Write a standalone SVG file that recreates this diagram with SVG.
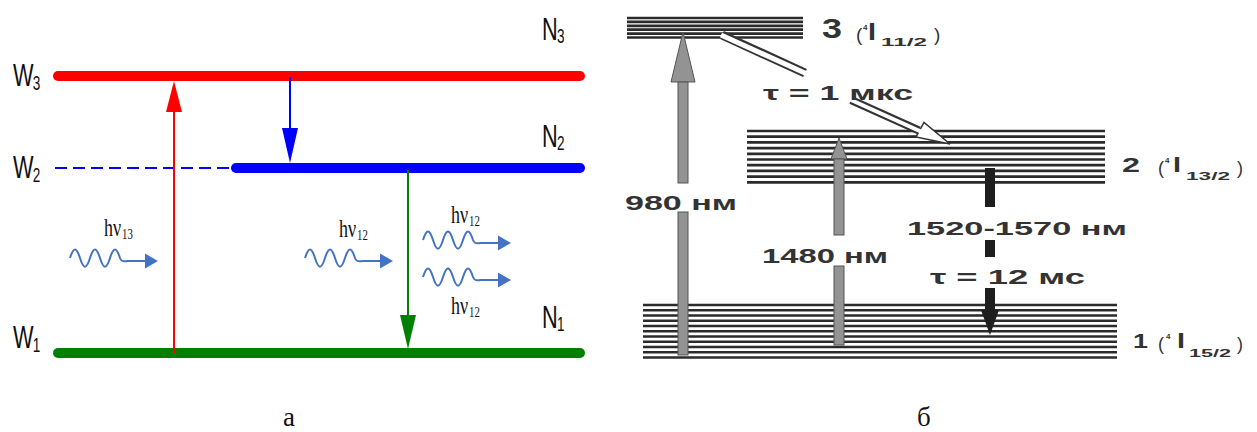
<svg xmlns="http://www.w3.org/2000/svg" width="1257" height="432" viewBox="0 0 1257 432">
<style>
.lv{font-family:"Liberation Sans",Arial,sans-serif;font-size:32px;fill:#111}
.lvs{font-family:"Liberation Sans",Arial,sans-serif;font-size:20px;fill:#111}
.hv{font-family:"Liberation Serif","Times New Roman",serif;font-size:25px;fill:#111}
.hvs{font-family:"Liberation Serif","Times New Roman",serif;font-size:15px;fill:#111}
.cap{font-family:"Liberation Serif","Times New Roman",serif;font-size:27px;fill:#111}
.rt{font-family:"Liberation Sans",Arial,sans-serif;font-weight:bold;fill:#333}
.rn{font-family:"Liberation Sans",Arial,sans-serif;fill:#333}
.lvl{stroke:#2b2b2b;stroke-width:2.7;fill:none}
.gray{fill:#939393;stroke:#555;stroke-width:1}
.blk{fill:#1e1e1e}
.wave{fill:none;stroke:#4472C4;stroke-width:2}
</style>
<defs>
<g id="wv">
<path class="wave" d="M0,0 c3.6,-11.5 6.4,-11.5 10,0 c3.6,11.5 6.4,11.5 10,0 c3.6,-11.5 6.4,-11.5 10,0 c3.6,11.5 6.4,11.5 10,0 c3.6,-11.5 6.4,-11.5 10,0 c2,5 5,3 8,3 H77"/>
<polygon points="75,-4.5 88,3 75,10.5" fill="#4472C4"/>
</g>
</defs>
<rect width="1257" height="432" fill="#fff"/>

<!-- Left panel: levels -->
<g id="level-W3"><line x1="58" y1="76" x2="580" y2="76" stroke="#FF0000" stroke-width="10" stroke-linecap="round"/></g>
<g id="level-W2"><line x1="55" y1="168" x2="232" y2="168" stroke="#0000FF" stroke-width="2" stroke-dasharray="12 6"/><line x1="236" y1="168" x2="580" y2="168" stroke="#0000FF" stroke-width="10" stroke-linecap="round"/></g>
<g id="level-W1"><line x1="58" y1="353" x2="580" y2="353" stroke="#008000" stroke-width="10" stroke-linecap="round"/></g>

<g id="label-W3" transform="translate(13,86) scale(0.68,1)"><text class="lv">W</text><text class="lvs" x="29" y="4">3</text></g>
<g id="label-W2" transform="translate(13,178) scale(0.68,1)"><text class="lv">W</text><text class="lvs" x="29" y="4">2</text></g>
<g id="label-W1" transform="translate(13,348) scale(0.68,1)"><text class="lv">W</text><text class="lvs" x="29" y="4">1</text></g>
<g id="label-N3" transform="translate(542,40) scale(0.68,1)"><text class="lv">N</text><text class="lvs" x="22" y="3">3</text></g>
<g id="label-N2" transform="translate(542,147) scale(0.68,1)"><text class="lv">N</text><text class="lvs" x="22" y="3">2</text></g>
<g id="label-N1" transform="translate(542,328) scale(0.68,1)"><text class="lv">N</text><text class="lvs" x="22" y="3">1</text></g>

<g id="photon-13"><use href="#wv" transform="translate(70,258)"/><g transform="translate(104,236) scale(0.72,1)"><text class="hv">hν</text><text class="hvs" x="25" y="3">13</text></g></g>
<g id="photon-12-in"><use href="#wv" transform="translate(305,258)"/><g transform="translate(339,237) scale(0.72,1)"><text class="hv">hν</text><text class="hvs" x="25" y="3">12</text></g></g>
<g id="photon-12-out1"><use href="#wv" transform="translate(423,240)"/><g transform="translate(451,223) scale(0.72,1)"><text class="hv">hν</text><text class="hvs" x="25" y="3">12</text></g></g>
<g id="photon-12-out2"><use href="#wv" transform="translate(423,277)"/><g transform="translate(451,314) scale(0.72,1)"><text class="hv">hν</text><text class="hvs" x="25" y="3">12</text></g></g>

<g id="connectors-left">
<line x1="174" y1="353" x2="174" y2="110" stroke="#FF0000" stroke-width="2"/>
<polygon points="174,81 166,112 182,112" fill="#FF0000"/>
<line x1="290" y1="77" x2="290" y2="130" stroke="#0000FF" stroke-width="2"/>
<polygon points="282,128 298,128 290,163" fill="#0000FF"/>
<line x1="408" y1="170" x2="408" y2="317" stroke="#008000" stroke-width="2"/>
<polygon points="400,315 416,315 408,349" fill="#008000"/>
</g>

<text id="caption-a" class="cap" x="283" y="426">а</text>

<!-- Right panel -->
<g id="level-3"><path class="lvl" d="M627,18H803M627,21.9H803M627,25.8H803M627,29.7H803M627,33.6H803M627,37.5H803"/></g>
<g id="level-2"><path class="lvl" d="M747,131H1105M747,136.7H1105M747,142.4H1105M747,148.1H1105M747,153.8H1105M747,159.5H1105M747,165.2H1105M747,170.9H1105M747,176.6H1105M747,182.3H1105"/></g>
<g id="level-1"><path class="lvl" d="M643,305H1117M643,310.25H1117M643,315.5H1117M643,320.75H1117M643,326H1117M643,331.25H1117M643,336.5H1117M643,341.75H1117M643,347H1117M643,352.25H1117M643,357.5H1117"/></g>

<g id="label-3">
<text class="rt" x="822" y="38" font-size="27" textLength="20" lengthAdjust="spacingAndGlyphs">3</text>
<text class="rn" x="856" y="41" font-size="19">(</text>
<text class="rt" x="863" y="30" font-size="8">4</text>
<text class="rt" x="868" y="40" font-size="24" textLength="8" lengthAdjust="spacingAndGlyphs">I</text>
<text class="rt" x="881" y="46" font-size="10" textLength="46" lengthAdjust="spacingAndGlyphs">11/2</text>
<text class="rn" x="934" y="41" font-size="19">)</text>
</g>
<g id="label-2">
<text class="rt" x="1122" y="172" font-size="20" textLength="18" lengthAdjust="spacingAndGlyphs">2</text>
<text class="rn" x="1158" y="174" font-size="18">(</text>
<text class="rt" x="1165" y="163" font-size="8">4</text>
<text class="rt" x="1173" y="172" font-size="22" textLength="8" lengthAdjust="spacingAndGlyphs">I</text>
<text class="rt" x="1186" y="180" font-size="10" textLength="44" lengthAdjust="spacingAndGlyphs">13/2</text>
<text class="rn" x="1237" y="174" font-size="18">)</text>
</g>
<g id="label-1">
<text class="rt" x="1133" y="348" font-size="20" textLength="15" lengthAdjust="spacingAndGlyphs">1</text>
<text class="rn" x="1158" y="350" font-size="18">(</text>
<text class="rt" x="1166" y="339" font-size="8">4</text>
<text class="rt" x="1177" y="348" font-size="22" textLength="8" lengthAdjust="spacingAndGlyphs">I</text>
<text class="rt" x="1189" y="357" font-size="10" textLength="42" lengthAdjust="spacingAndGlyphs">15/2</text>
<text class="rn" x="1237" y="350" font-size="18">)</text>
</g>

<g id="connectors-right">
<!-- 980 nm pump -->
<polygon class="gray" points="683,32 671,82 695,82"/>
<rect class="gray" x="678" y="82" width="10" height="101"/>
<rect class="gray" x="678" y="212" width="10" height="143"/>
<!-- 1480 nm pump -->
<polygon class="gray" points="839,138 831,159 847,159"/>
<rect class="gray" x="834" y="159" width="10" height="76"/>
<rect class="gray" x="834" y="266" width="10" height="79"/>
<!-- nonradiative decay 3 -> 2 -->
<line x1="722" y1="35" x2="805" y2="73" stroke="#333" stroke-width="9"/>
<line x1="721" y1="35" x2="806" y2="73.5" stroke="#fff" stroke-width="5"/>
<polygon points="950,144 916,137 924,122.5" fill="#fff" stroke="#333" stroke-width="1.5"/>
<line x1="851" y1="100" x2="919" y2="130.5" stroke="#333" stroke-width="8"/>
<line x1="850" y1="99.5" x2="923" y2="132.5" stroke="#fff" stroke-width="4"/>
<!-- radiative 2 -> 1 -->
<rect class="blk" x="985" y="168" width="10" height="39"/>
<rect class="blk" x="985" y="240" width="10" height="17"/>
<rect class="blk" x="985" y="288" width="10" height="23"/>
<polygon class="blk" points="981,310 999,310 990,335"/>
</g>

<g id="labels-right">
<text class="rt" x="625" y="210" font-size="20" textLength="112" lengthAdjust="spacingAndGlyphs">980 нм</text>
<text class="rt" x="762" y="263" font-size="20" textLength="126" lengthAdjust="spacingAndGlyphs">1480 нм</text>
<text class="rt" x="907" y="235" font-size="19" textLength="220" lengthAdjust="spacingAndGlyphs">1520-1570 нм</text>
<text class="rt" x="930" y="284" font-size="20" textLength="155" lengthAdjust="spacingAndGlyphs">τ = 12 мс</text>
<text class="rt" x="763" y="100" font-size="20" textLength="150" lengthAdjust="spacingAndGlyphs">τ = 1 мкс</text>
</g>

<text id="caption-b" class="cap" x="917" y="426">б</text>
</svg>
